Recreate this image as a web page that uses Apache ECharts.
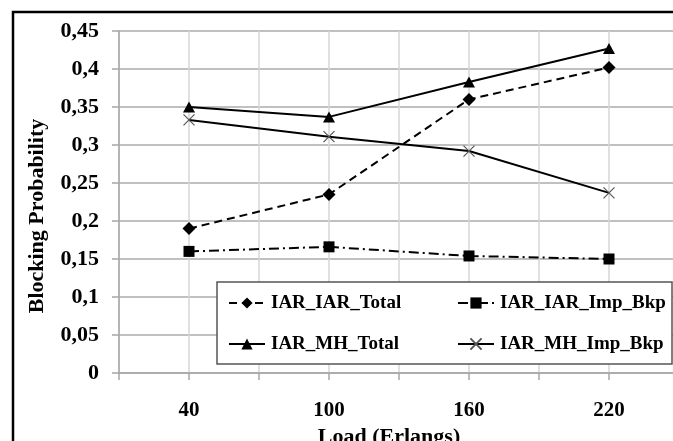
<!DOCTYPE html>
<html>
<head>
<meta charset="utf-8">
<script src="https://cdn.jsdelivr.net/npm/echarts@6/dist/echarts.min.js"></script>
<style>
html,body{margin:0;padding:0;background:#fff;}
#chart{width:673px;height:441px;}
</style>
</head>
<body>
<div id="chart"></div>
<script>
const loads = [40, 100, 160, 220];
const xTickLabels = ['40', '100', '160', '220'];
const iarIarTotal = [0.190, 0.235, 0.360, 0.402];
const iarIarImpBkp = [0.160, 0.166, 0.154, 0.150];
const iarMhTotal = [0.350, 0.337, 0.383, 0.427];
const iarMhImpBkp = [0.333, 0.311, 0.292, 0.237];
const seriesNames = ['IAR_IAR_Total', 'IAR_IAR_Imp_Bkp', 'IAR_MH_Total', 'IAR_MH_Imp_Bkp'];
const xTitle = 'Load (Erlangs)';
const yTitle = 'Blocking Probability';

const FONT = '"Liberation Serif", "Times New Roman", serif';
const pairs = arr => loads.map((x, i) => [x, arr[i]]);

const chart = echarts.init(document.getElementById('chart'), null, {renderer: 'canvas'});
const legendText = {color: '#000', fontFamily: FONT, fontWeight: 'bold', fontSize: 19, lineHeight: 24, padding: [0, 0, 0, 1]};
const option = {
  backgroundColor: '#ffffff',
  animation: false,
  grid: {left: 119, top: 31, width: 560, bottom: 68, containLabel: false, outerBoundsMode: 'none'},
  xAxis: {
    type: 'value', min: 10, max: 250, interval: 30,
    axisLine: {show: true, onZero: false, lineStyle: {color: '#a6a6a6', width: 1.5}},
    axisTick: {show: true, length: 7, inside: false, lineStyle: {color: '#a6a6a6', width: 1.5}},
    splitLine: {show: true, lineStyle: {color: '#d6d6d6', width: 1.5}},
    axisLabel: {
      margin: 27, color: '#000', fontFamily: FONT, fontWeight: 'bold', fontSize: 21,
      formatter: v => { const i = loads.indexOf(v); return i >= 0 ? xTickLabels[i] : ''; }
    },
    name: xTitle, nameLocation: 'middle', nameGap: 47,
    nameTextStyle: {color: '#000', fontFamily: FONT, fontWeight: 'bold', fontSize: 22, padding: [0, 20, 0, 0]}
  },
  yAxis: {
    type: 'value', min: 0, max: 0.45, interval: 0.05,
    axisLine: {show: true, lineStyle: {color: '#a6a6a6', width: 1.5}},
    axisTick: {show: true, length: 7, lineStyle: {color: '#a6a6a6', width: 1.5}},
    splitLine: {show: true, lineStyle: {color: '#ababab', width: 1.5}},
    axisLabel: {
      margin: 20, color: '#000', fontFamily: FONT, fontWeight: 'bold', fontSize: 22,
      formatter: v => String(+v.toFixed(2)).replace('.', ',')
    }
  },
  legend: [
    {
      data: [seriesNames[0], seriesNames[2]], orient: 'vertical', left: 228, top: 291,
      padding: 0, itemGap: 17, itemWidth: 36, itemHeight: 14, textStyle: legendText
    },
    {
      data: [seriesNames[1], seriesNames[3]], orient: 'vertical', left: 457, top: 291,
      padding: 0, itemGap: 17, itemWidth: 36, itemHeight: 14, textStyle: legendText
    }
  ],
  graphic: [
    {type: 'rect', z: 3, shape: {x: 217, y: 282, width: 455, height: 82},
     style: {fill: '#ffffff', stroke: '#555555', lineWidth: 1.5}},
    {type: 'rect', z: 10, shape: {x: 13, y: 12, width: 720, height: 520},
     style: {fill: 'none', stroke: '#000000', lineWidth: 2.5}},
    {type: 'text', z: 10, x: 37, y: 216, rotation: Math.PI / 2,
     style: {text: yTitle, fill: '#000', font: 'bold 22px ' + FONT, align: 'center', verticalAlign: 'middle'}}
  ],
  series: [
    {
      name: seriesNames[0], type: 'line', data: pairs(iarIarTotal),
      symbol: 'diamond', symbolSize: 13,
      lineStyle: {color: '#000', width: 2, type: [8, 5]},
      itemStyle: {color: '#000'}
    },
    {
      name: seriesNames[1], type: 'line', data: pairs(iarIarImpBkp),
      symbol: 'rect', symbolSize: 11,
      lineStyle: {color: '#000', width: 2, type: [10, 4, 2, 4]},
      itemStyle: {color: '#000'}
    },
    {
      name: seriesNames[2], type: 'line', data: pairs(iarMhTotal),
      symbol: 'triangle', symbolSize: [12, 11],
      lineStyle: {color: '#000', width: 2, type: 'solid'},
      itemStyle: {color: '#000'}
    },
    {
      name: seriesNames[3], type: 'line', data: pairs(iarMhImpBkp),
      symbol: 'path://M0,0L10,10M10,0L0,10', symbolSize: 11,
      lineStyle: {color: '#000', width: 2, type: 'solid'},
      itemStyle: {color: 'none', borderColor: '#555', borderWidth: 1.2}
    }
  ]
};
chart.setOption(option);
</script>
</body>
</html>
